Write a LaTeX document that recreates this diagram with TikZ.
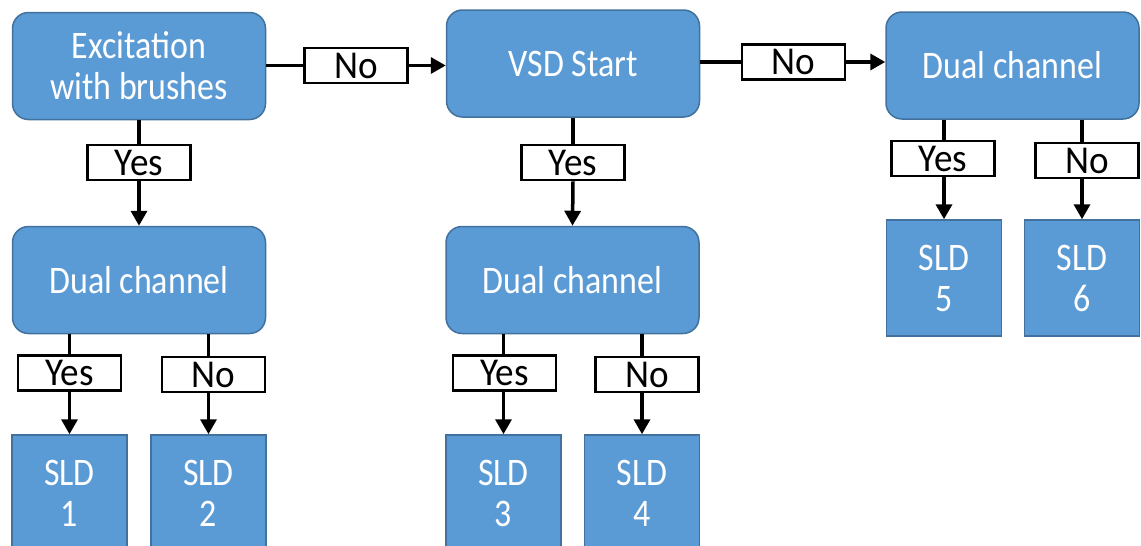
\documentclass[tikz,border=0pt]{standalone}
\usepackage{fontspec}
\setmainfont{Carlito}
\newfontfamily\boxfont[FakeStretch=0.87]{Carlito}
\newfontfamily\tagfont[FakeStretch=0.94]{Carlito}
\usetikzlibrary{arrows.meta}
\definecolor{boxfill}{HTML}{5B9BD5}
\definecolor{boxline}{HTML}{41719C}
\tikzset{
  decision/.style={rectangle, rounded corners=16pt, fill=boxfill, draw=boxline,
    line width=1.5pt, minimum width=253pt, minimum height=107pt, inner sep=0pt,
    text=white, align=center, font=\boxfont\fontsize{39}{41}\selectfont},
  sldbox/.style={rectangle, fill=boxfill, draw=boxline, line width=1.5pt,
    minimum width=115pt, minimum height=116pt, inner sep=0pt,
    text=white, align=center, font=\boxfont\fontsize{39}{41}\selectfont},
  answer/.style={rectangle, fill=white, draw=black, line width=2.6pt,
    minimum width=103pt, minimum height=35pt, inner sep=0pt,
    font=\tagfont\fontsize{39.5}{40}\selectfont},
  link/.style={draw=black, line width=3.5pt},
  flow/.style={link, -{Triangle[length=15pt,width=16pt]}},
}
\begin{document}
\begin{tikzpicture}[x=1pt,y=-1pt]
\useasboundingbox (0,0) rectangle (1141,546);

% decision boxes
\node[decision] (exc) at (139,66) {Excitation\\with brushes};
\node[decision] (vsd) at (573,63.5) {VSD Start};
\node[decision] (dR) at (1012.5,65.5) {Dual channel};
\node[decision] (dL) at (139,280) {Dual channel};
\node[decision] (dM) at (572.5,280) {Dual channel};

% outcome boxes
\node[sldbox] (s1) at (69.5,493) {SLD\\1};
\node[sldbox] (s2) at (208.5,493) {SLD\\2};
\node[sldbox] (s3) at (503.5,493) {SLD\\3};
\node[sldbox] (s4) at (642,493) {SLD\\4};
\node[sldbox] (s5) at (944,278) {SLD\\5};
\node[sldbox] (s6) at (1082,278) {SLD\\6};

% answer tags
\node[answer] (aNo1) at (356,65.5) {No};
\node[answer] (aNo2) at (793.5,62) {No};
\node[answer] (aY1) at (139,162.5) {Yes};
\node[answer] (aY2) at (573,162.5) {Yes};
\node[answer] (aY5) at (943,158.5) {Yes};
\node[answer] (aN6) at (1087,160.5) {No};
\node[answer] (aY1b) at (69.5,373) {Yes};
\node[answer] (aN2b) at (213.5,374.5) {No};
\node[answer] (aY3b) at (504.5,373) {Yes};
\node[answer] (aN4b) at (647,374.5) {No};

% horizontal branches
\draw[link] (exc.east |- aNo1) -- (aNo1.west);
\draw[flow] (aNo1.east) -- (aNo1.east -| vsd.west);
\draw[link] (vsd.east |- aNo2) -- (aNo2.west);
\draw[flow] (aNo2.east) -- (aNo2.east -| dR.west);

% branches down from the first row
\draw[link] (exc.south) -- (aY1.north);
\draw[flow] (aY1.south) -- (dL.north);
\draw[link] (vsd.south) -- (aY2.north);
\draw[flow] (aY2.south) -- (dM.north);
\draw[link] (dR.south -| s5) -- (aY5.north -| s5);
\draw[flow] (aY5.south -| s5) -- (s5.north);
\draw[link] (dR.south -| s6) -- (aN6.north -| s6);
\draw[flow] (aN6.south -| s6) -- (s6.north);

% branches down from the second row
\draw[link] (dL.south -| s1) -- (aY1b.north -| s1);
\draw[flow] (aY1b.south -| s1) -- (s1.north);
\draw[link] (dL.south -| s2) -- (aN2b.north -| s2);
\draw[flow] (aN2b.south -| s2) -- (s2.north);
\draw[link] (dM.south -| s3) -- (aY3b.north -| s3);
\draw[flow] (aY3b.south -| s3) -- (s3.north);
\draw[link] (dM.south -| s4) -- (aN4b.north -| s4);
\draw[flow] (aN4b.south -| s4) -- (s4.north);
\end{tikzpicture}
\end{document}
